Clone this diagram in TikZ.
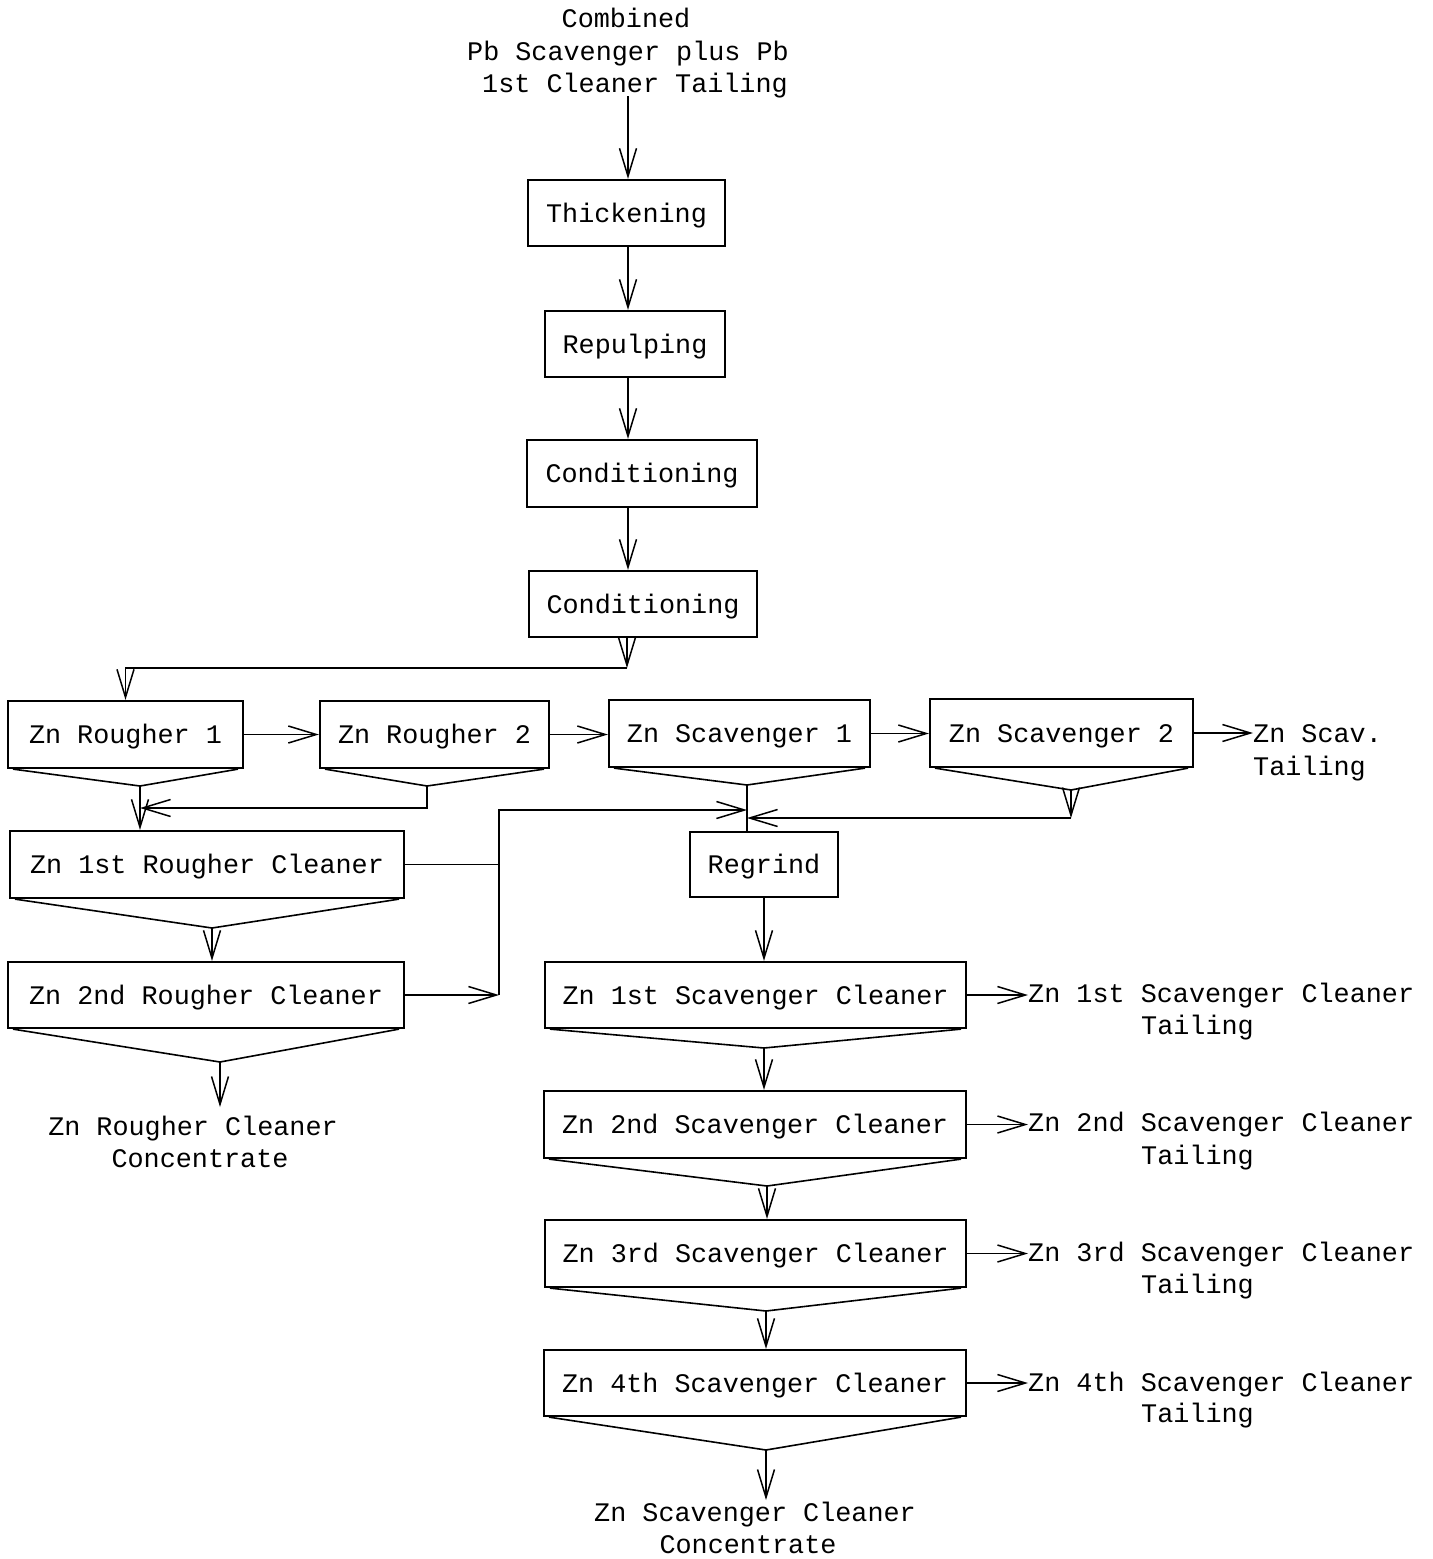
\documentclass[tikz,border=0pt]{standalone}
\usepackage{fontspec}
\setmainfont{Liberation Mono}
\usetikzlibrary{arrows.meta}
\newcommand\mytxt{\fontsize{26.8}{32.5}\selectfont}
\tikzset{
  box/.style={draw, line width=2.2pt, inner sep=0pt, minimum height=66pt, font=\mytxt, text height=22pt, text depth=4pt},
  lbl/.style={inner sep=0pt, font=\mytxt, anchor=base},
  lblw/.style={inner sep=0pt, font=\mytxt, anchor=base west},
  conn/.style={line width=1.6pt},
  vline/.style={line width=1.6pt, line join=miter},
  arr/.style={line width=1.6pt, -{Straight Barb[length=28pt,width=17pt,line width=1.5pt]}},
}
\begin{document}
\begin{tikzpicture}[x=1pt,y=-1pt]
\useasboundingbox (0,0) rectangle (1433,1559);

% top feed text
\node[lbl] (f1) at (626,27) {Combined};
\node[lbl] (f2) at (628,60) {Pb Scavenger plus Pb};
\node[lbl] (f3) at (635,92) {1st Cleaner Tailing};
\coordinate (ax) at (628,0);
\coordinate (feed) at (628,96);

% boxes
\node[box, minimum width=197pt] (thick) at (626.5,213) {Thickening};
\node[box, minimum width=180pt] (repulp) at (635,344) {Repulping};
\node[box, minimum width=230pt, minimum height=67pt] (cond1) at (642,473.5) {Conditioning};
\node[box, minimum width=228pt] (cond2) at (643,604) {Conditioning};

\node[box, minimum width=235pt, minimum height=67pt] (r1) at (125.5,734.5) {Zn Rougher 1};
\node[box, minimum width=229pt, minimum height=67pt] (r2) at (434.5,734.5) {Zn Rougher 2};
\node[box, minimum width=261pt, minimum height=67pt] (s1) at (739.5,733.5) {Zn Scavenger 1};
\node[box, minimum width=263pt, minimum height=68pt] (s2) at (1061.5,733) {Zn Scavenger 2};

\node[box, minimum width=394pt, minimum height=67pt] (rc1) at (207,864.5) {Zn 1st Rougher Cleaner};
\node[box, minimum width=396pt] (rc2) at (206,995) {Zn 2nd Rougher Cleaner};
\node[box, minimum width=148pt, minimum height=65pt] (regrind) at (764,864.5) {Regrind};

\node[box, minimum width=421pt] (sc1) at (755.5,995) {Zn 1st Scavenger Cleaner};
\node[box, minimum width=422pt, minimum height=67pt] (sc2) at (755,1124.5) {Zn 2nd Scavenger Cleaner};
\node[box, minimum width=421pt, minimum height=67pt] (sc3) at (755.5,1253.5) {Zn 3rd Scavenger Cleaner};
\node[box, minimum width=422pt] (sc4) at (755,1383) {Zn 4th Scavenger Cleaner};

% product texts
\node[lblw] (st1) at (1253,742) {Zn Scav.};
\node[lblw] (st2) at (1253,775) {Tailing};

\node[lblw] (t1a) at (1028,1002) {Zn 1st Scavenger Cleaner};
\node[lblw] (t1b) at (1141,1034) {Tailing};
\node[lblw] (t2a) at (1028,1131) {Zn 2nd Scavenger Cleaner};
\node[lblw] (t2b) at (1141,1164) {Tailing};
\node[lblw] (t3a) at (1028,1261) {Zn 3rd Scavenger Cleaner};
\node[lblw] (t3b) at (1141,1293) {Tailing};
\node[lblw] (t4a) at (1028,1391) {Zn 4th Scavenger Cleaner};
\node[lblw] (t4b) at (1141,1422) {Tailing};

\node[lbl] (rcc1) at (193,1135) {Zn Rougher Cleaner};
\node[lbl] (rcc2) at (200,1167) {Concentrate};
\node[lbl] (scc1) at (755,1521) {Zn Scavenger Cleaner};
\node[lbl] (scc2) at (748,1553) {Concentrate};

% main vertical chain
\draw[arr] (feed) -- (thick.north -| ax);
\draw[arr] (thick.south -| ax) -- (repulp.north -| ax);
\draw[arr] (repulp.south -| ax) -- (cond1.north -| ax);
\draw[arr] (cond1.south -| ax) -- (cond2.north -| ax);
\coordinate (fc) at (627,668);
\draw[arr] (cond2.south -| fc) -- (fc);
\draw[arr] (fc) -| (r1.north);

% rougher row
\draw[arr] (r1.east) -- (r1.east -| r2.west);
\draw[arr] (r2.east) -- (r2.east -| s1.west);
\draw[arr] (s1.east) -- (s1.east -| s2.west);
\draw[arr] (s2.east) -- (s2.east -| st1.west);

% V collectors
\coordinate (vr1) at (140,786);
\coordinate (vr2) at (427,786);
\coordinate (vs1) at (747,785);
\coordinate (vs2) at (1071,790);
\coordinate (vc1) at (212,928);
\coordinate (vc2) at (220,1062);
\coordinate (vq1) at (764,1048);
\coordinate (vq2) at (767,1186);
\coordinate (vq3) at (766,1311);
\coordinate (vq4) at (766,1450);

\foreach \b/\v in {r1/vr1, r2/vr2, s1/vs1, s2/vs2, rc1/vc1, rc2/vc2, sc1/vq1, sc2/vq2, sc3/vq3, sc4/vq4}
  \draw[vline] ([xshift=6pt]\b.south west) -- (\v) -- ([xshift=-6pt]\b.south east);

% rougher concentrates to cleaner
\draw[arr] (vr1) -- (vr1 |- rc1.north);
\coordinate (j2) at (427,808);
\coordinate (j2t) at (140,808);
\draw[arr] (vr2) -- (j2) -- (j2t);

% scavenger concentrates to regrind
\draw[conn] (vs1) -- (vs1 |- regrind.north);
\coordinate (j3) at (1071,818);
\coordinate (j3t) at (747,818);
\draw[arr] (vs2) -- (j3);
\draw[arr] (j3) -- (j3t);

% cleaner tailings loop
\coordinate (lp) at (499,0);
\coordinate (lpb) at (499,810);
\coordinate (lpt) at (747,810);
\draw[conn] (rc1.east) -- (rc1.east -| lp);
\draw[arr] (rc2.east) -- (rc2.east -| lp);
\draw[arr] (rc2.east -| lp) -- (lpb) -- (lpt);

% rougher cleaners
\draw[arr] (vc1) -- (vc1 |- rc2.north);
\coordinate (rce) at (220,1107);
\draw[arr] (vc2) -- (rce);

% regrind to scavenger cleaners
\draw[arr] (regrind.south) -- (regrind.south |- sc1.north);
\draw[arr] (vq1) -- (vq1 |- sc2.north);
\draw[arr] (vq2) -- (vq2 |- sc3.north);
\draw[arr] (vq3) -- (vq3 |- sc4.north);
\coordinate (sce) at (766,1500);
\draw[arr] (vq4) -- (sce);

% tailings
\draw[arr] (sc1.east) -- (sc1.east -| t1a.west);
\draw[arr] (sc2.east) -- (sc2.east -| t2a.west);
\draw[arr] (sc3.east) -- (sc3.east -| t3a.west);
\draw[arr] (sc4.east) -- (sc4.east -| t4a.west);
\end{tikzpicture}
\end{document}
